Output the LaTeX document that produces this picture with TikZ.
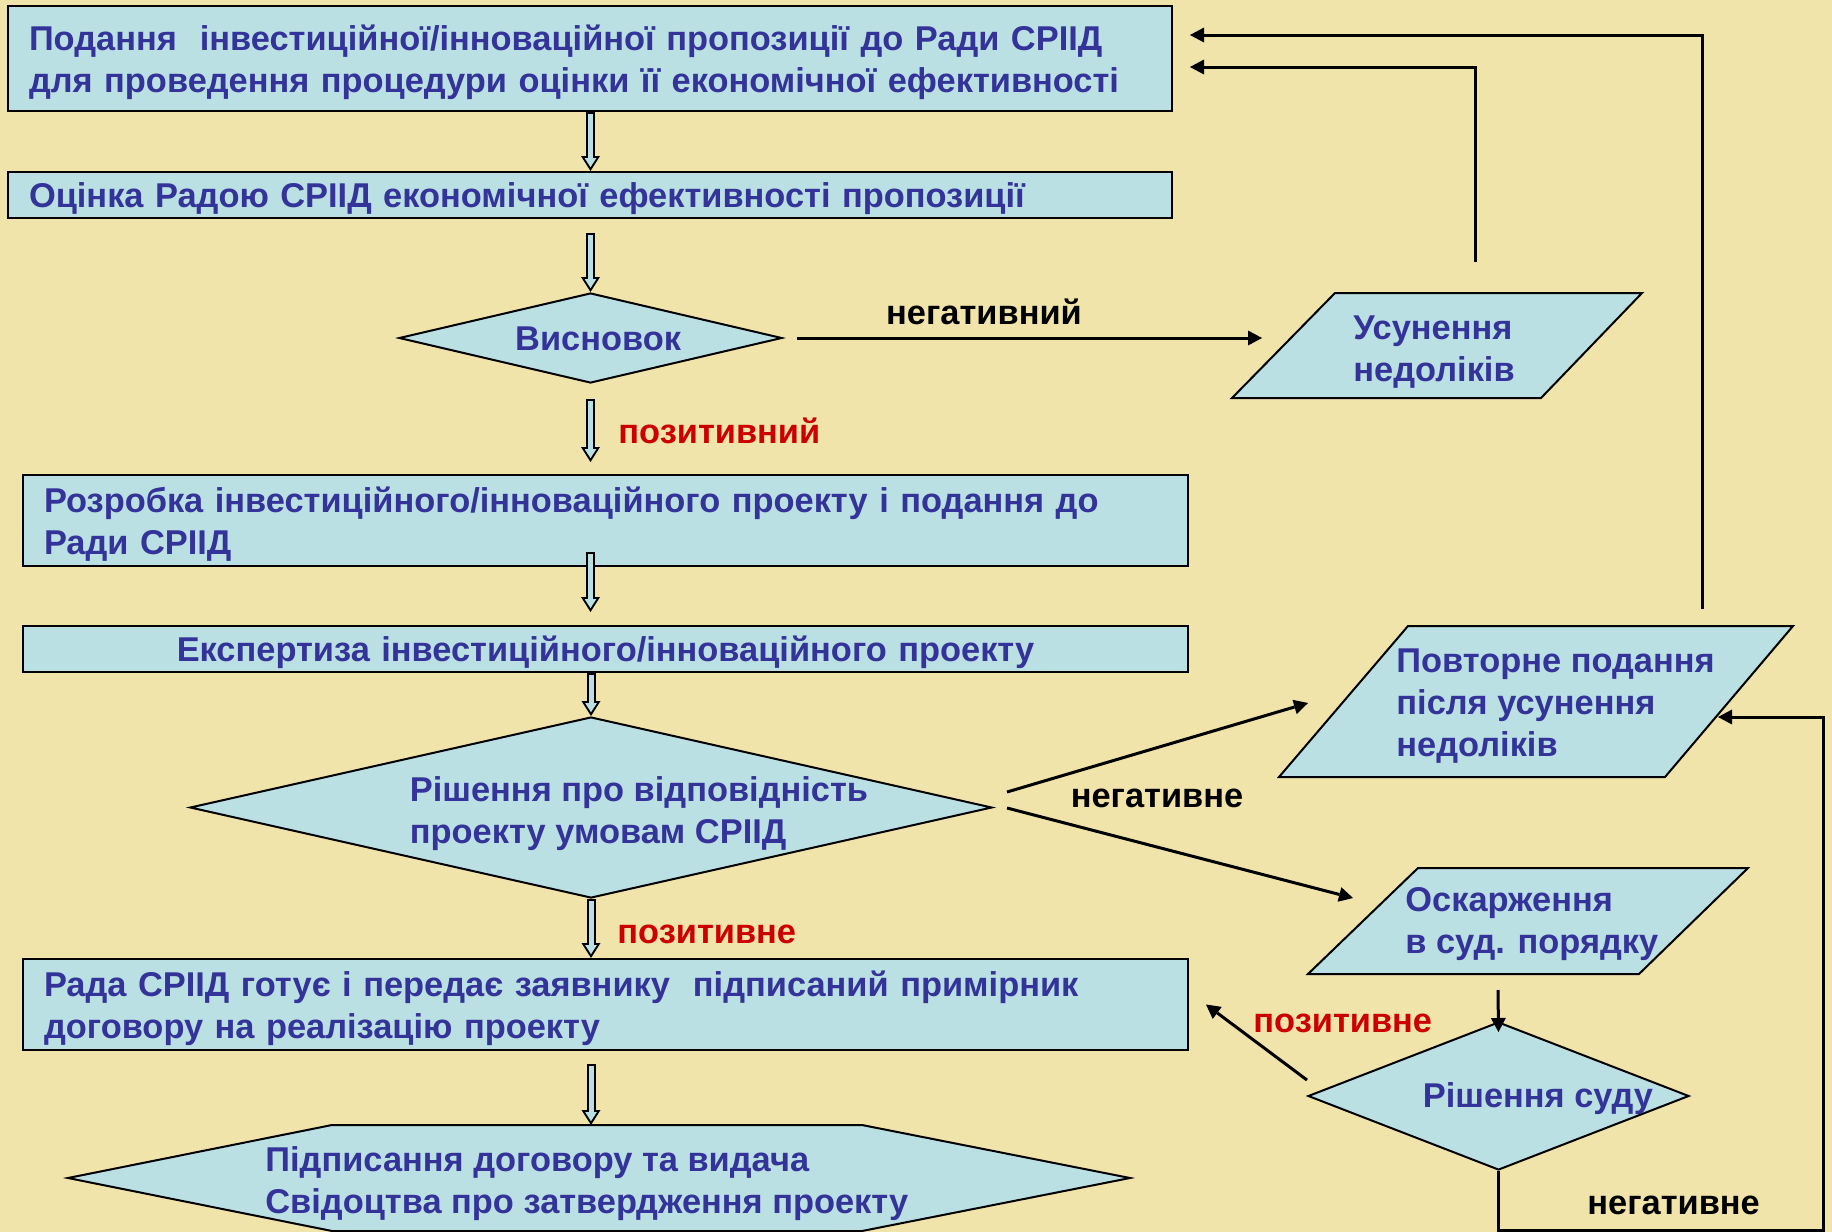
\documentclass[tikz,border=0pt]{standalone}
\usepackage{fontspec}
\setmainfont{Liberation Sans}
\usetikzlibrary{shapes.geometric,arrows.meta,calc}
\definecolor{bgyellow}{RGB}{240,228,170}
\definecolor{boxblue}{RGB}{187,224,227}
\definecolor{txtblue}{RGB}{51,51,153}
\definecolor{posred}{RGB}{204,0,0}
\tikzset{
  stepbox/.style={draw=black, line width=1pt, fill=boxblue, text=txtblue, font=\bfseries\fontsize{17.2}{21}\selectfont, inner xsep=10.5pt, inner ysep=0pt, align=left, text height=14.5pt, text depth=1.6pt},
  twolines/.style={text depth=22.5pt},
  decision/.style={diamond, aspect=4, draw=black, line width=1pt, fill=boxblue, inner sep=0pt},
  dtext/.style={text=txtblue, font=\bfseries\fontsize{17.2}{21}\selectfont, align=left, inner sep=0pt},
  shapefill/.style={draw=black, line width=1pt, fill=boxblue},
  sidetext/.style={dtext, anchor=west},
  negtext/.style={font=\bfseries\fontsize{17.2}{21}\selectfont, inner sep=0pt},
  postext/.style={negtext, text=posred, anchor=west},
  flow/.style={line width=1.5pt, -{Triangle[length=7pt,width=7.5pt,line width=0pt]}},
  hollowout/.style={line width=4.5pt, -{Triangle[length=7.5pt,width=9.5pt,line width=0pt]}},
  hollowin/.style={line width=2.5pt, color=boxblue, shorten <=1pt, shorten >=1.9pt, -{Triangle[length=4.6pt,width=5.9pt,line width=0pt]}}
}
\newcommand{\dblarrow}[2]{\draw[hollowout] #1 -- #2; \draw[hollowin] #1 -- #2;}
\begin{document}
\begin{tikzpicture}[x=0.5pt, y=-0.5pt]
\useasboundingbox (0,0) rectangle (1832,1232);
\fill[bgyellow] (0,0) rectangle (1832,1232);
% main column
\node[stepbox, twolines, minimum width=582pt, minimum height=52.5pt, text width=561pt] (podannia) at (590,58.5) {Подання\ \ інвестиційної/інноваційної пропозиції до Ради СРІІД\\для проведення процедури оцінки її економічної ефективності};
\node[stepbox, minimum width=582pt, minimum height=23pt, text width=561pt] (otsinka) at (590,195) {Оцінка Радою СРІІД економічної ефективності пропозиції};
\node[decision, minimum width=191.5pt, minimum height=45pt, label={[dtext, xshift=3.8pt, yshift=-0.6pt]center:Висновок}] (vysnovok) at (590.5,338) {};
\node[stepbox, twolines, minimum width=582.5pt, minimum height=45.5pt, text width=561.5pt] (rozrobka) at (605.5,520.5) {Розробка інвестиційного/інноваційного проекту і подання до\\Ради СРІІД};
\node[stepbox, minimum width=582.5pt, minimum height=23pt, text width=561.5pt, align=center] (ekspertyza) at (605.5,649) {Експертиза інвестиційного/інноваційного проекту};
\node[decision, minimum width=401pt, minimum height=90.5pt, label={[dtext, xshift=24pt, yshift=-3.25pt]center:{Рішення про відповідність\\проекту умовам СРІІД}}] (rishennia) at (591,807.5) {};
\node[stepbox, twolines, minimum width=582.5pt, minimum height=45.5pt, text width=561.5pt] (rada) at (605.5,1004.5) {Рада СРІІД готує і передає заявнику\ \ підписаний примірник\\договору на реалізацію проекту};
\filldraw[shapefill] (68,1178) -- (332,1125) -- (862,1125) -- (1130,1178) -- (862,1231) -- (332,1231) -- cycle;
\node[sidetext] (pidpysannia) at (265,1183.5) {Підписання договору та видача\\Свідоцтва про затвердження проекту};
\coordinate (hex-top) at (591,1125);
% right column
\filldraw[shapefill] (1335,293) -- (1642,293) -- (1541,398) -- (1232,398) -- cycle;
\node[sidetext] (usunennia) at (1353,352) {Усунення\\недоліків};
\filldraw[shapefill] (1408,626) -- (1793,626) -- (1665,777) -- (1279,777) -- cycle;
\node[sidetext] (povtorne) at (1396,706) {Повторне подання\\після усунення\\недоліків};
\filldraw[shapefill] (1418,868) -- (1748,868) -- (1639,974) -- (1308,974) -- cycle;
\node[sidetext] (oskarzhennia) at (1405,924) {Оскарження\\в суд. порядку};
\node[decision, minimum width=190.5pt, minimum height=74pt, label={[dtext, xshift=19.75pt, yshift=-1.2pt]center:Рішення суду}] (sud) at (1498.5,1096) {};
% connector ends
\coordinate (usun-in) at (1262,338);
\coordinate (usun-out) at (1475,262);
\coordinate (ret-low) at (1190,67);
\coordinate (povt-out) at (1702,609);
\coordinate (ret-high) at (1190,35);
\coordinate (neg-a) at (1007,792);
\coordinate (neg-b) at (1007,808);
\coordinate (povt-in) at (1308,703);
\coordinate (osk-in) at (1353,898);
\coordinate (osk-out) at (1498,990);
\coordinate (loop-corner) at (1823,1230);
\coordinate (povt-back) at (1718,717);
% hollow arrows
\dblarrow{(podannia.south -| vysnovok)}{(otsinka.north -| vysnovok)}
\dblarrow{($(otsinka.south -| vysnovok)+(0,14)$)}{(vysnovok.north)}
\dblarrow{($(vysnovok.south)+(0,15)$)}{($(vysnovok.south |- rozrobka.north)+(0,-12)$)}
\dblarrow{($(vysnovok.south |- rozrobka.south)+(0,-15)$)}{($(vysnovok.south |- ekspertyza.north)+(0,-13)$)}
\dblarrow{(rishennia.north |- ekspertyza.south)}{(rishennia.north)}
\dblarrow{(rishennia.south)}{(rishennia.south |- rada.north)}
\dblarrow{($(rishennia.south |- rada.south)+(0,13)$)}{(hex-top)}
% black arrows
\draw[flow] ([xshift=7pt]vysnovok.east) -- (usun-in);
\draw[flow] (usun-out) |- (ret-low);
\draw[flow] (povt-out) |- (ret-high);
\draw[flow] (neg-a) -- (povt-in);
\draw[flow] (neg-b) -- (osk-in);
\draw[flow] (osk-out) -- ([yshift=-5.5pt]sud.north);
\draw[flow] ([yshift=8pt]sud.west) -- ([xshift=8.5pt]rada.east);
\draw[flow] (sud.south) |- (loop-corner) |- (povt-back);
% labels
\node[negtext] (neg1) at (984,312) {негативний};
\node[postext] (pos1) at (618,431) {позитивний};
\node[negtext] (neg2) at (1157,798.5) {негативне};
\node[postext] (pos2) at (617,934.5) {позитивне};
\node[postext] (pos3) at (1253,1023.5) {позитивне};
\node[negtext, anchor=west] (neg3) at (1587,1205) {негативне};
\end{tikzpicture}
\end{document}
